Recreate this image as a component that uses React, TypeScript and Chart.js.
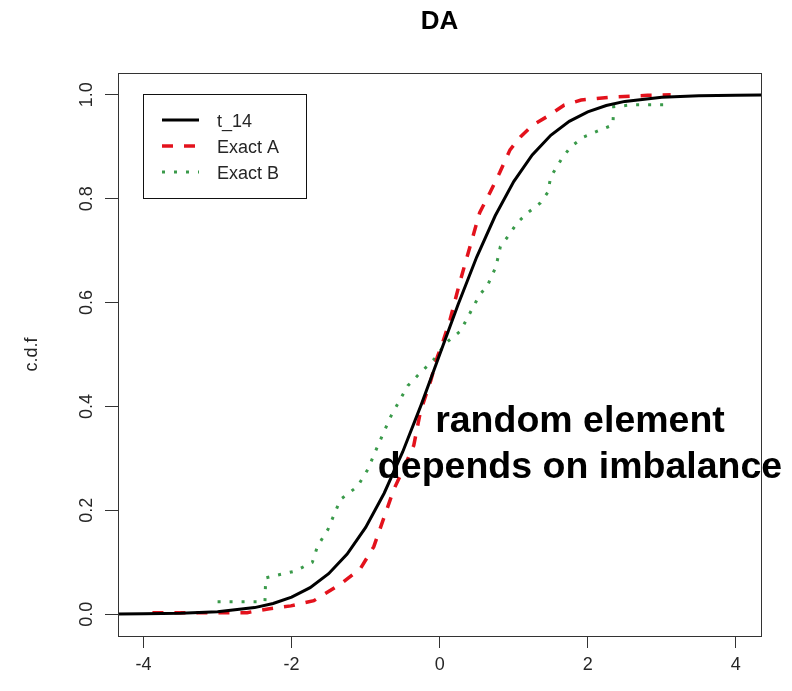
import React, { useEffect, useRef } from 'react';
import { Chart, registerables } from 'chart.js';

Chart.register(...registerables);

// ---- data ----
const chartTitle = 'DA';
const yAxisTitle = 'c.d.f';
const noteLines = ['random element', 'depends on imbalance'];
const seriesNames = ['t_14', 'Exact A', 'Exact B'];

const xTickValues = [-4, -2, 0, 2, 4];
const yTickValues = [0, 0.2, 0.4, 0.6, 0.8, 1.0];

// t_14 c.d.f
const tX = [-4.35, -4, -3.5, -3, -2.5, -2.25, -2, -1.75, -1.5, -1.25, -1, -0.75, -0.5, -0.25, 0, 0.25, 0.5, 0.75, 1, 1.25, 1.5, 1.75, 2, 2.25, 2.5, 3, 3.5, 4, 4.35];
const tY = [0.0003, 0.0007, 0.0018, 0.0048, 0.0127, 0.0206, 0.0327, 0.051, 0.0779, 0.1159, 0.1672, 0.2329, 0.3124, 0.4031, 0.5, 0.5969, 0.6876, 0.7671, 0.8328, 0.8841, 0.9221, 0.949, 0.9673, 0.9794, 0.9873, 0.9952, 0.9982, 0.9993, 0.9997];

// Exact A
const aX = [-3.88, -2.6, -2.32, -2.01, -1.7, -1.34, -1.07, -0.89, -0.76, -0.62, -0.49, -0.35, -0.26, -0.12, -0.03, 0.04, 0.14, 0.27, 0.41, 0.54, 0.68, 0.81, 0.95, 1.09, 1.26, 1.45, 1.68, 1.91, 2.35, 2.81, 3.12];
const aY = [0.003, 0.003, 0.01, 0.016, 0.026, 0.058, 0.088, 0.13, 0.183, 0.24, 0.28, 0.325, 0.39, 0.45, 0.496, 0.523, 0.567, 0.638, 0.708, 0.773, 0.812, 0.85, 0.894, 0.919, 0.942, 0.958, 0.98, 0.99, 0.996, 0.999, 1.0];

// Exact B
const bX = [-3.0, -2.36, -2.35, -1.95, -1.72, -1.65, -1.51, -1.34, -1.11, -0.97, -0.84, -0.66, -0.43, -0.26, -0.08, 0.09, 0.28, 0.41, 0.54, 0.64, 0.76, 0.82, 0.92, 1.05, 1.19, 1.36, 1.46, 1.5, 1.64, 1.77, 1.95, 2.18, 2.34, 2.35, 2.62, 3.05];
const bY = [0.024, 0.024, 0.07, 0.083, 0.1, 0.131, 0.163, 0.221, 0.246, 0.279, 0.323, 0.381, 0.44, 0.465, 0.49, 0.523, 0.545, 0.58, 0.615, 0.631, 0.669, 0.708, 0.727, 0.754, 0.773, 0.792, 0.812, 0.842, 0.875, 0.9, 0.919, 0.933, 0.942, 0.977, 0.981, 0.981];

const FONT = "'Liberation Sans', Arial, Helvetica, sans-serif";
const TEXT = '#262626';

const toPts = (xs: number[], ys: number[]) => xs.map((x, i) => ({ x, y: ys[i] }));

const decorPlugin = {
  id: 'decor',
  afterDraw(chart: any) {
    const { ctx, chartArea } = chart;
    const ys = chart.scales.y;
    ctx.save();
    // box
    ctx.strokeStyle = '#333333';
    ctx.lineWidth = 1;
    ctx.strokeRect(Math.round(chartArea.left) + 0.5, Math.round(chartArea.top) + 0.5,
      Math.round(chartArea.right - chartArea.left), Math.round(chartArea.bottom - chartArea.top));

    // title
    ctx.fillStyle = '#000';
    ctx.font = `bold 26px ${FONT}`;
    ctx.textAlign = 'center';
    ctx.textBaseline = 'middle';
    ctx.fillText(chartTitle, (chartArea.left + chartArea.right) / 2, 22);

    // y tick labels (rotated)
    ctx.fillStyle = TEXT;
    ctx.font = `18px ${FONT}`;
    for (const t of ys.ticks) {
      const py = ys.getPixelForValue(t.value);
      ctx.save();
      ctx.translate(87, py);
      ctx.rotate(-Math.PI / 2);
      ctx.textAlign = 'center';
      ctx.textBaseline = 'middle';
      ctx.fillText(Number(t.value).toFixed(1), 0, 0);
      ctx.restore();
    }
    // y title
    ctx.save();
    ctx.translate(32, (chartArea.top + chartArea.bottom) / 2);
    ctx.rotate(-Math.PI / 2);
    ctx.textAlign = 'center';
    ctx.textBaseline = 'middle';
    ctx.fillText(yAxisTitle, 0, 0);
    ctx.restore();

    // legend
    const lx = 143, ly = 94, lw = 163, lh = 104;
    ctx.fillStyle = '#fff';
    ctx.fillRect(lx, ly, lw, lh);
    ctx.strokeStyle = '#111';
    ctx.lineWidth = 1;
    ctx.strokeRect(lx + 0.5, ly + 0.5, lw, lh);
    const rows = [120, 146, 172];
    chart.data.datasets.forEach((ds: any, i: number) => {
      const y = rows[i];
      ctx.save();
      ctx.strokeStyle = ds.borderColor;
      ctx.lineWidth = ds.borderWidth;
      ctx.setLineDash(ds.borderDash || []);
      ctx.lineCap = ds.borderCapStyle || 'butt';
      ctx.beginPath();
      ctx.moveTo(162, y);
      ctx.lineTo(199, y);
      ctx.stroke();
      ctx.restore();
      ctx.fillStyle = TEXT;
      ctx.font = `18px ${FONT}`;
      ctx.textAlign = 'left';
      ctx.textBaseline = 'middle';
      ctx.fillText(ds.label, 217, y + 2);
    });

    // annotation
    ctx.fillStyle = '#000';
    ctx.font = `bold 37.5px ${FONT}`;
    ctx.textAlign = 'center';
    ctx.textBaseline = 'middle';
    ctx.fillText(noteLines[0], 580, 422);
    ctx.fillText(noteLines[1], 580, 468);
    ctx.restore();
  },
};

export default function App() {
  const ref = useRef<HTMLCanvasElement | null>(null);
  useEffect(() => {
    if (!ref.current) return;
    Chart.defaults.font.family = FONT;
    const chart = new Chart(ref.current, {
      type: 'scatter',
      data: {
        datasets: [
          { label: seriesNames[0], data: toPts(tX, tY), showLine: true, borderColor: '#000000', borderWidth: 3, pointRadius: 0, borderDash: [], tension: 0 },
          { label: seriesNames[1], data: toPts(aX, aY), showLine: true, borderColor: '#e3121c', borderWidth: 3.5, pointRadius: 0, borderDash: [11, 11], tension: 0 },
          { label: seriesNames[2], data: toPts(bX, bY), showLine: true, borderColor: '#3a9a4a', borderWidth: 3, pointRadius: 0, borderDash: [3, 9], tension: 0 },
        ],
      },
      options: {
        animation: false,
        responsive: false,
        devicePixelRatio: 1,
        layout: { padding: { left: 0, right: 31, top: 73, bottom: 0 } },
        plugins: { legend: { display: false }, tooltip: { enabled: false }, title: { display: false } },
        scales: {
          x: {
            type: 'linear',
            min: -4.345,
            max: 4.34,
            afterBuildTicks: (s: any) => { s.ticks = xTickValues.map((v) => ({ value: v })); },
            afterFit: (s: any) => { s.height = 55; },
            ticks: { color: TEXT, font: { size: 18, family: FONT }, padding: 6, callback: (v: any) => String(v), maxRotation: 0, minRotation: 0 },
            grid: { display: true, drawOnChartArea: false, drawTicks: true, tickLength: 12, color: '#333333', lineWidth: 1 },
            border: { display: false },
          },
          y: {
            type: 'linear',
            min: -0.042,
            max: 1.042,
            afterBuildTicks: (s: any) => { s.ticks = yTickValues.map((v) => ({ value: v })); },
            afterFit: (s: any) => { s.width = 118; },
            ticks: { display: false },
            grid: { display: true, drawOnChartArea: false, drawTicks: true, tickLength: 13, color: '#333333', lineWidth: 1 },
            border: { display: false },
          },
        },
      },
      plugins: [decorPlugin],
    });
    return () => chart.destroy();
  }, []);
  return (
    <div style={{ position: 'absolute', left: 0, top: 0, width: 792, height: 691, background: '#fff' }}>
      <canvas ref={ref} width={792} height={691} style={{ display: 'block' }} />
    </div>
  );
}
